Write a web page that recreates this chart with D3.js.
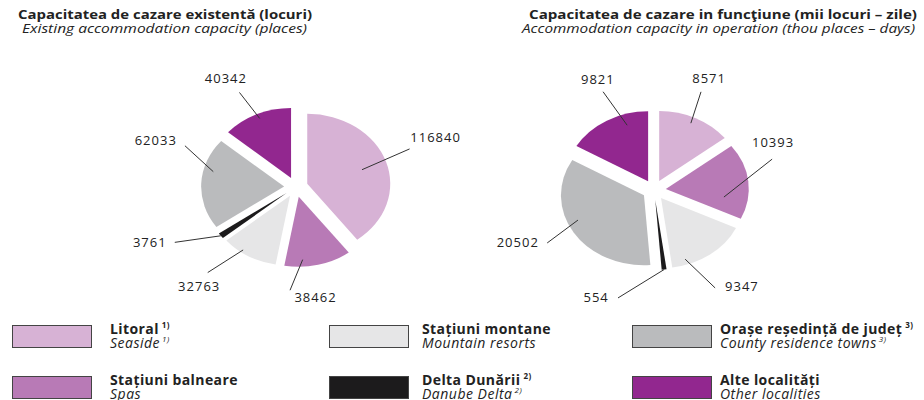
<!DOCTYPE html>
<html>
<head>
<meta charset="utf-8">
<script src="https://cdn.jsdelivr.net/npm/d3@7"></script>
<style>
  body { margin: 0; background: #fff; }
  svg { display: block; font-family: "Open Sans", "Noto Sans", sans-serif; }
</style>
</head>
<body>
<svg id="chart" width="924" height="400"></svg>
<script>
// categories, clockwise from 12 o'clock in both pies
var categories = ["Litoral", "Stațiuni balneare", "Stațiuni montane", "Delta Dunării", "Orașe reședință de județ", "Alte localități"];
var categoriesEn = ["Seaside", "Spas", "Mountain resorts", "Danube Delta", "County residence towns", "Other localities"];
var notes = ["1)", "", "", "2)", "3)", ""];

// existing capacity (places)
var existing = [116840, 38462, 32763, 3761, 62033, 40342];
// capacity in operation (thou places - days)
var inOperation = [8571, 10393, 9347, 554, 20502, 9821];

var colors = ["#d7b2d5", "#b87ab6", "#e6e6e7", "#1c1b1c", "#babbbd", "#92278f"];

// leader line / label placement per slice:
// [angle nudge start, r start, angle nudge end, r end, text angle nudge, text r]
var leftLabels = [
  [1.5, 0.69, -3.5, 1.33, -4.5, 1.68],
  [10.5, 0.90, 18, 1.34, 5.5, 1.45],
  [6, 0.96, 12, 1.48, 10, 1.70],
  [0, 1.0, 10, 1.52, 14.6, 1.79],
  [11.3, 0.88, 23.3, 1.33, 20.3, 1.68],
  [0.7, 0.93, -2.3, 1.37, -4.3, 1.62]
];
var rightLabels = [
  [-1.3, 0.91, -4.5, 1.37, -3.7, 1.58],
  [15.7, 0.71, -12.1, 1.35, -21.1, 1.455],
  [17.8, 0.92, 9.3, 1.44, -1.3, 1.60],
  [0, 1.0, 23.9, 1.47, 33.1, 1.57],
  [8.1, 0.87, 1.8, 1.35, 8.4, 1.66],
  [12.4, 0.84, 6.9, 1.39, 7.2, 1.57]
];

var svg = d3.select("#chart");
var rx = 83, ry = 70, explode = 10;

function drawPie(cx, cy, values, labels) {
  var pie = d3.pie().sort(null).value(function(d) { return d; });
  var arcs = pie(values);
  var arc = d3.arc().innerRadius(0).outerRadius(ry);

  var g = svg.append("g")
    .attr("transform", "translate(" + cx + "," + cy + ") scale(" + (rx / ry) + ",1)");

  g.selectAll("path")
    .data(arcs)
    .enter().append("path")
      .attr("transform", function(d) {
        var m = (d.startAngle + d.endAngle) / 2;
        return "translate(" + (Math.sin(m) * explode) + "," + (-Math.cos(m) * explode) + ")";
      })
      .attr("d", arc)
      .attr("fill", function(d, i) { return colors[i]; });

  // screen point inside the exploded slice
  function pt(d, deg, r) {
    var m = (d.startAngle + d.endAngle) / 2, a = m + deg * Math.PI / 180;
    return [cx + rx / ry * (Math.sin(m) * explode + Math.sin(a) * r * ry),
            cy - Math.cos(m) * explode - Math.cos(a) * r * ry];
  }

  var lab = svg.append("g");
  arcs.forEach(function(d, i) {
    var L = labels[i];
    var p1 = pt(d, L[0], L[1]), p2 = pt(d, L[2], L[3]), p3 = pt(d, L[4], L[5]);
    lab.append("line")
      .attr("x1", p1[0]).attr("y1", p1[1])
      .attr("x2", p2[0]).attr("y2", p2[1])
      .attr("stroke", "#333").attr("stroke-width", 1);
    lab.append("text")
      .attr("x", p3[0]).attr("y", p3[1])
      .attr("dy", "0.35em")
      .attr("text-anchor", "middle")
      .attr("font-size", 13)
      .attr("letter-spacing", 1)
      .attr("fill", "#222")
      .text(d.data);
  });
}

drawPie(296, 187, existing, leftLabels);
drawPie(654, 190, inOperation, rightLabels);

// titles
svg.append("text").attr("x", 18).attr("y", 19)
  .attr("font-size", 12).attr("font-weight", "bold").attr("fill", "#222")
  .attr("textLength", 294).attr("lengthAdjust", "spacingAndGlyphs")
  .text("Capacitatea de cazare existentă (locuri)");
svg.append("text").attr("x", 22).attr("y", 33)
  .attr("font-size", 12.5).attr("font-style", "italic").attr("fill", "#222")
  .attr("textLength", 285).attr("lengthAdjust", "spacingAndGlyphs")
  .text("Existing accommodation capacity (places)");
svg.append("text").attr("x", 917).attr("y", 19).attr("text-anchor", "end")
  .attr("font-size", 12).attr("font-weight", "bold").attr("fill", "#222")
  .attr("textLength", 388).attr("lengthAdjust", "spacingAndGlyphs")
  .text("Capacitatea de cazare in funcţiune (mii locuri – zile)");
svg.append("text").attr("x", 915).attr("y", 33).attr("text-anchor", "end")
  .attr("font-size", 12.5).attr("font-style", "italic").attr("fill", "#222")
  .attr("textLength", 393).attr("lengthAdjust", "spacingAndGlyphs")
  .text("Accommodation capacity in operation (thou places – days)");

// legend: 3 columns x 2 rows
var boxX = [12, 329, 632], textX = [110, 422, 720], rowY = [325, 376];
var legend = svg.append("g");
categories.forEach(function(c, i) {
  var col = Math.floor(i / 2), row = i % 2;
  var y = rowY[row];
  legend.append("rect")
    .attr("x", boxX[col] + 0.5).attr("y", y + 0.5)
    .attr("width", 79).attr("height", 22)
    .attr("fill", colors[i]).attr("stroke", "#444").attr("stroke-width", 1);
  var t1 = legend.append("text").attr("x", textX[col]).attr("y", y + 9)
    .attr("font-size", 14).attr("font-weight", "bold").attr("letter-spacing", 0.4).attr("fill", "#222");
  t1.append("tspan").text(c);
  if (notes[i]) t1.append("tspan").attr("font-size", 8).attr("dx", 3).attr("dy", -6).text(notes[i]);
  var t2 = legend.append("text").attr("x", textX[col]).attr("y", y + 23)
    .attr("font-size", 14).attr("font-style", "italic").attr("letter-spacing", 0.5).attr("fill", "#222");
  t2.append("tspan").text(categoriesEn[i]);
  if (notes[i]) t2.append("tspan").attr("font-size", 8).attr("dx", 2).attr("dy", -6).text(notes[i]);
});
</script>
</body>
</html>
